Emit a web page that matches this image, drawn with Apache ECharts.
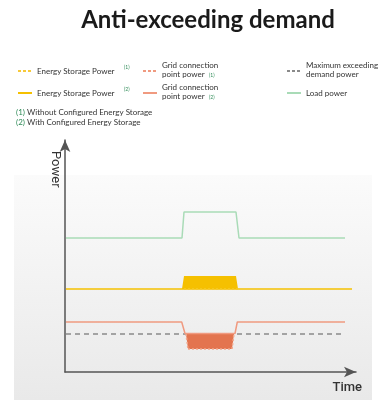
<!DOCTYPE html>
<html><head><meta charset="utf-8">
<script src="https://cdn.jsdelivr.net/npm/echarts@6/dist/echarts.min.js"></script>
<style>html,body{margin:0;padding:0;background:#fff}#c{width:382px;height:400px}</style>
</head><body><div id="c"></div>
<script>
// ---- data (schematic units) ----
const xMax = 291, yMax = 232;
const loadPower = [[1,134],[117,134],[119,160],[171,160],[174,134],[280,134]];
const essLine = [[1,83],[287,83]];
const essFill = [[117,83],[119,96],[171,96],[173,83]];
const gridLine = [[1,50],[116.7,50],[120,38.5],[170,38.5],[172.3,50],[280,50]];
const gridFill = [[121,38],[123,23],[167,23],[169,38]];
const maxDemand = [[1,38],[280,38]];
const legendRow1 = ['Energy Storage Power', 'Grid connection\npoint power', 'Maximum exceeding\ndemand power'];
const legendRow2 = ['Energy Storage Power', 'Grid connection\npoint power', 'Load power'];
const notes = ['Without Configured Energy Storage', 'With Configured Energy Storage'];
const titleText = 'Anti-exceeding demand';
const yName = 'Power', xName = 'Time';

const C = {yellow:'#f5c000', orange:'#f09a80', orangeF:'#e3744f', orangeL:'#f2a78c', green:'#a9dbb7', gray:'#8a8a8a', text:'#333', note:'#2e8b57'};
const F = 'Lato, "Open Sans", sans-serif';

function polySeries(pts, fill, edgeColor, edges){
  return {
    type:'custom', coordinateSystem:'cartesian2d', data:[0], silent:true, z:3,
    renderItem:function(params, api){
      const P = pts.map(p => api.coord(p));
      const children = [{type:'polygon', shape:{points:P}, style:{fill:fill}}];
      edges.forEach(e => {
        children.push({type:'line', shape:{x1:P[e[0]][0],y1:P[e[0]][1],x2:P[e[1]][0],y2:P[e[1]][1]},
          style:{stroke:edgeColor, lineWidth:1.5, lineDash:[2,2]}});
      });
      return {type:'group', children:children};
    }
  };
}

const chart = echarts.init(document.getElementById('c'));
const g = [];
g.push({type:'rect', z:-10, shape:{x:14,y:175,width:358,height:225},
  style:{fill:new echarts.graphic.LinearGradient(0,0,0,1,[{offset:0,color:'#fbfbfb'},{offset:1,color:'#e9e9e9'}])}});
// legend
const colX = [18,143,287], txtX = [37,162,306];
const row1Styles = [{c:'#f7c93a',d:[3,2]},{c:C.orange,d:[3,2]},{c:C.gray,d:[3,2]}];
const row2Styles = [{c:C.yellow,d:null},{c:C.orange,d:null},{c:C.green,d:null}];
function legendRow(labels, styles, y, tag){
  labels.forEach((t,i)=>{
    g.push({type:'line', shape:{x1:colX[i],y1:y,x2:colX[i]+14,y2:y}, style:{stroke:styles[i].c, lineWidth:2, lineDash:styles[i].d}});
    const two = t.indexOf('\n')>=0;
    g.push({type:'text', x:txtX[i], y:y-(two?1:0), style:{text:t, fill:C.text, font:'8px '+F, verticalAlign:'middle', lineHeight:9.5}});
  });
  g.push({type:'text', x:124, y:y-4, style:{text:tag, fill:C.note, font:'5px '+F, verticalAlign:'middle'}});
  g.push({type:'text', x:209, y:y+4, style:{text:tag, fill:C.note, font:'5px '+F, verticalAlign:'middle'}});
}
legendRow(legendRow1, row1Styles, 71, '(1)');
legendRow(legendRow2, row2Styles, 93, '(2)');
notes.forEach((t,i)=>{
  g.push({type:'text', x:16, y:112+i*10, style:{text:'{n|('+(i+1)+')} '+t, fill:C.text, font:'8px '+F, verticalAlign:'middle',
    rich:{n:{fill:C.note, font:'8px '+F}}}});
});
g.push({type:'text', x:55, y:151, rotation:-Math.PI/2, style:{text:yName, fill:'#333', font:'13px Roboto, sans-serif', align:'left', verticalAlign:'middle'}});
g.push({type:'text', x:362, y:388, style:{text:xName, fill:'#333', font:'500 13px Roboto, sans-serif', align:'right', verticalAlign:'middle'}});

const axisCommon = {type:'value', min:0, axisLabel:{show:false}, axisTick:{show:false}, splitLine:{show:false},
  axisLine:{show:true, onZero:false, symbol:['none','arrow'], symbolSize:[8,12], lineStyle:{color:'#555', width:1.5}}};

chart.setOption({
  animation:false,
  backgroundColor:'#fff',
  title:{text:titleText, top:3, left:203, textAlign:'center', textStyle:{fontFamily:F, fontWeight:'bold', fontSize:24, color:'#1a1a1a'}},
  grid:{left:65, right:26, top:140, bottom:28},
  xAxis:Object.assign({}, axisCommon, {max:xMax}),
  yAxis:Object.assign({}, axisCommon, {max:yMax}),
  graphic:g,
  series:[
    {type:'line', data:maxDemand, symbol:'none', lineStyle:{color:C.gray, width:1.5, type:[5,4]}, z:2},
    polySeries(gridFill, C.orangeF, C.orangeL, [[0,1],[1,2],[2,3]]),
    {type:'line', data:gridLine, symbol:'none', lineStyle:{color:C.orange, width:1.5}, z:4},
    polySeries(essFill, C.yellow, '#fbe7a8', [[3,0]]),
    {type:'line', data:essLine, symbol:'none', lineStyle:{color:C.yellow, width:1.5}, z:4},
    {type:'line', data:loadPower, symbol:'none', lineStyle:{color:C.green, width:1.5}, z:4}
  ]
});
</script></body></html>
